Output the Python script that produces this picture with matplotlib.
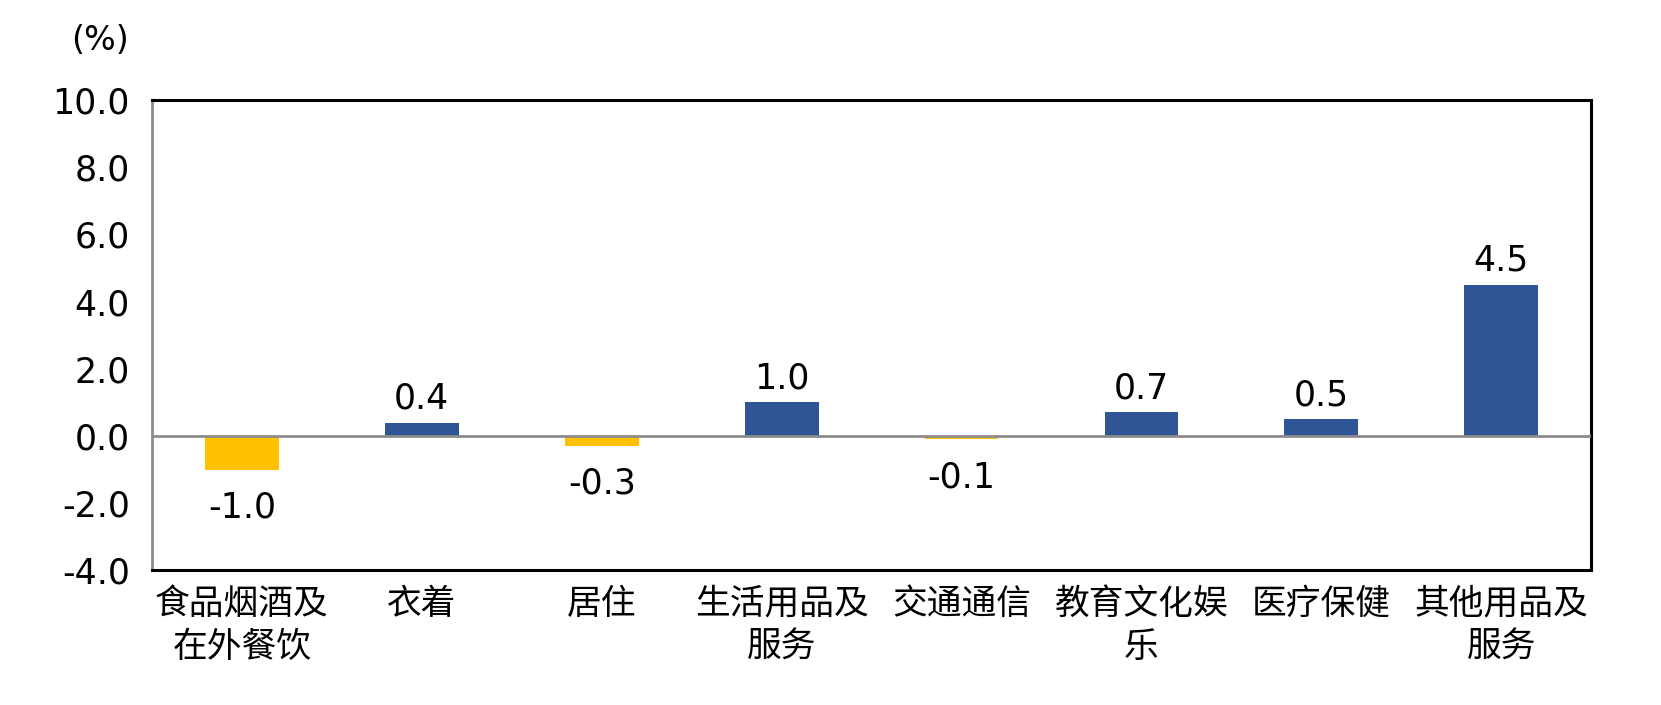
import matplotlib.pyplot as plt
import numpy as np

plt.rcParams['font.family'] = ['DejaVu Sans', 'Noto Sans CJK SC']

categories = ['食品烟酒及\n在外餐饮', '衣着', '居住', '生活用品及\n服务',
              '交通通信', '教育文化娱\n乐', '医疗保健', '其他用品及\n服务']
values = [-1.0, 0.4, -0.3, 1.0, -0.1, 0.7, 0.5, 4.5]
labels = ['-1.0', '0.4', '-0.3', '1.0', '-0.1', '0.7', '0.5', '4.5']
yticks = [-4.0, -2.0, 0.0, 2.0, 4.0, 6.0, 8.0, 10.0]

blue = '#2F5597'
yellow = '#FFC000'

fig = plt.figure(figsize=(16.61, 7.05), dpi=100)
ax = fig.add_axes([0.0915, 0.191, 0.8665, 0.667])

x = np.arange(len(categories))
colors = [blue if v >= 0 else yellow for v in values]
ax.bar(x, values, width=0.41, color=colors, zorder=2)
ax.axhline(0, color='#8c8c8c', lw=2, zorder=3)

# value labels above positive bars, below negative ones
for xi, v, lab in zip(x, values, labels):
    if v >= 0:
        ax.annotate(lab, (xi, v), xytext=(0, 5), textcoords='offset points',
                    ha='center', va='bottom', fontsize=25)
    else:
        ax.annotate(lab, (xi, v), xytext=(0, -15), textcoords='offset points',
                    ha='center', va='top', fontsize=25)

ax.set_xlim(-0.5, len(categories) - 0.5)
ax.set_ylim(-4, 10)
ax.set_yticks(yticks)
ax.set_yticklabels([f'{t:.1f}' for t in yticks], fontsize=25)
ax.set_xticks(x)
ax.set_xticklabels(categories, fontsize=25, linespacing=1.3,
                   family=['Noto Sans CJK SC', 'DejaVu Sans'])
ax.tick_params(axis='both', length=0)
ax.tick_params(axis='y', pad=16)
ax.tick_params(axis='x', pad=12)

for side in ['top', 'right', 'bottom']:
    ax.spines[side].set_color('black')
    ax.spines[side].set_linewidth(2.2)
ax.spines['left'].set_color('#8c8c8c')
ax.spines['left'].set_linewidth(2)

fig.text(100 / 1661, 1 - 40 / 705, '(%)', ha='center', va='center', fontsize=24)

fig.savefig('out.png', dpi=100)
